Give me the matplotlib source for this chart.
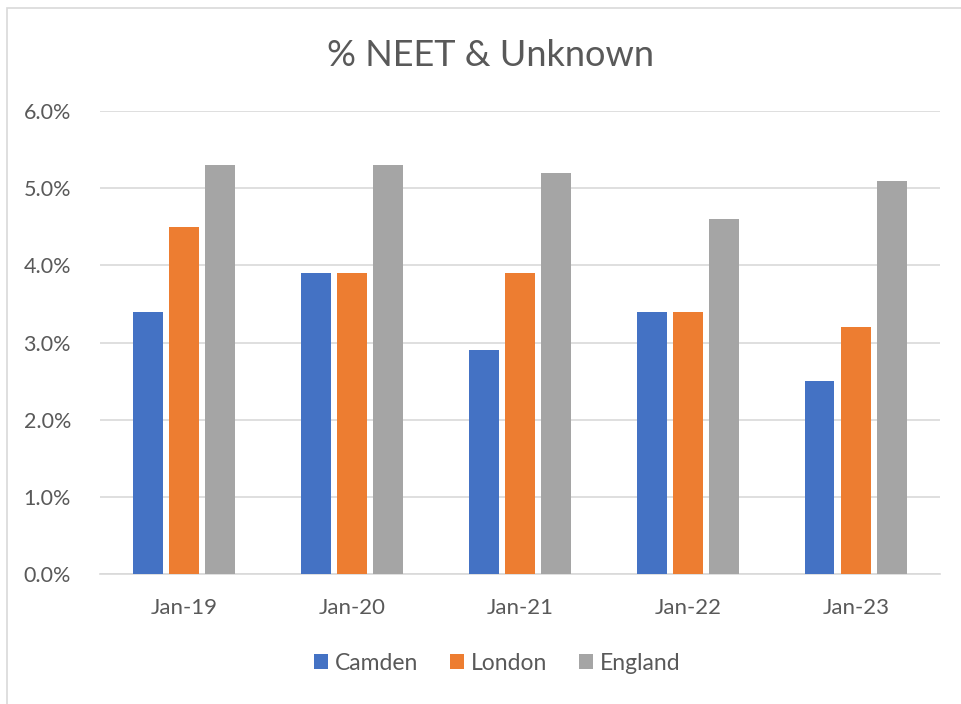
import matplotlib
matplotlib.use("Agg")
import matplotlib.pyplot as plt
import numpy as np
from matplotlib.patches import Rectangle

categories = ["Jan-19", "Jan-20", "Jan-21", "Jan-22", "Jan-23"]
series_names = ["Camden", "London", "England"]
camden = [3.4, 3.9, 2.9, 3.4, 2.5]
london = [4.5, 3.9, 3.9, 3.4, 3.2]
england = [5.3, 5.3, 5.2, 4.6, 5.1]
y_ticks = [0, 1, 2, 3, 4, 5, 6]
y_tick_labels = ["0.0%", "1.0%", "2.0%", "3.0%", "4.0%", "5.0%", "6.0%"]

colors = ["#4472C4", "#ED7D31", "#A5A5A5"]
text_color = "#595959"
plt.rcParams['font.family'] = ['Lato', 'DejaVu Sans']

fig = plt.figure(figsize=(9.62, 7.04), dpi=100)
ax = fig.add_axes([0.104, 0.1847, 0.873, 0.6575])

# chart border
fig.patches.append(Rectangle((7/962, -0.1), 1.2, (704-8)/704 + 0.1, transform=fig.transFigure,
                             fill=False, edgecolor="#D9D9D9", linewidth=1.2))

x = np.arange(len(categories))
w = 0.175
step = 0.215
for i, (vals, name) in enumerate(zip([camden, london, england], series_names)):
    ax.bar(x + (i - 1) * step, vals, width=w, color=colors[i], label=name, zorder=3)

ax.set_xlim(-0.5, len(categories) - 0.5)
ax.set_ylim(0, 6)
ax.set_yticks(y_ticks)
ax.set_yticklabels(y_tick_labels, fontsize=15.5, color=text_color)
ax.set_xticks(x)
ax.set_xticklabels(categories, fontsize=16, color=text_color)
ax.tick_params(axis='both', length=0)
ax.tick_params(axis='y', pad=21)
ax.tick_params(axis='x', pad=17)
ax.grid(axis='y', color="#D9D9D9", linewidth=1.2, zorder=0)
for s in ["top", "right", "left"]:
    ax.spines[s].set_visible(False)
ax.spines["bottom"].set_color("#D9D9D9")
ax.spines["bottom"].set_linewidth(1.2)

fig.text(0.510, 0.921, "% NEET & Unknown", ha="center", va="center", fontsize=26, color=text_color)

leg = fig.legend(loc="center", bbox_to_anchor=(0.517, 0.058), ncol=3, frameon=False,
                 fontsize=16.5, handlelength=0.6, handleheight=0.6, handletextpad=0.3,
                 columnspacing=1.4, labelcolor=text_color)

fig.savefig("out.png", dpi=100)
